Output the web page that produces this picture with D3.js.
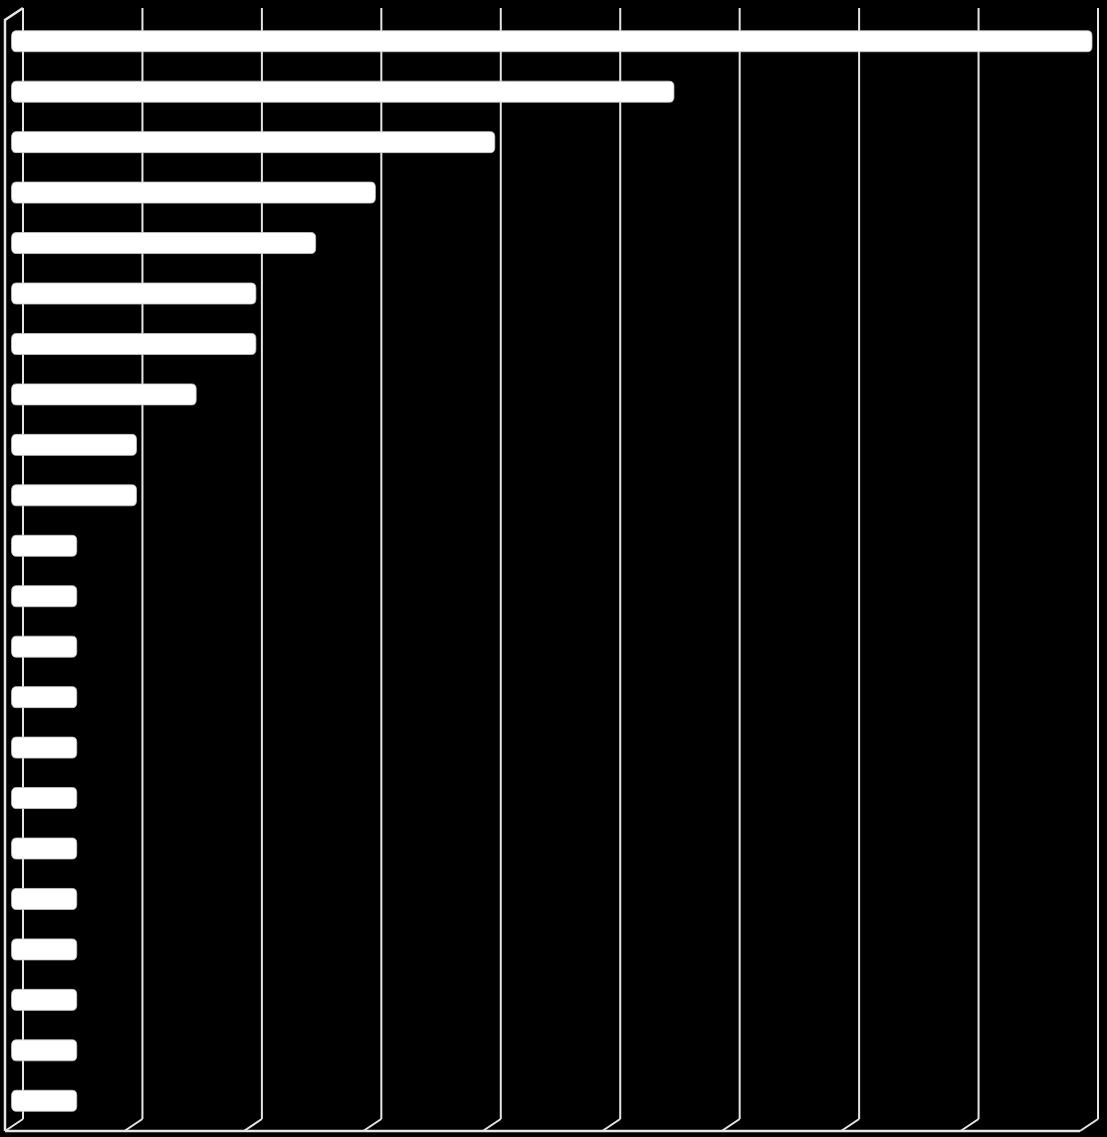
<!DOCTYPE html>
<html>
<head>
<meta charset="utf-8">
<script src="https://cdn.jsdelivr.net/npm/d3@7"></script>
<style>
  html, body { margin: 0; padding: 0; background: #000; }
  svg { display: block; }
</style>
</head>
<body>
<svg id="chart" width="1107" height="1137"></svg>
<script>
// Data
const categories = ["A1","A2","A3","A4","A5","A6","A7","A8","A9","A10","A11",
                    "A12","A13","A14","A15","A16","A17","A18","A19","A20","A21","A22"];
const values = [18, 11, 8, 6, 5, 4, 4, 3, 2, 2, 1, 1, 1, 1, 1, 1, 1, 1, 1, 1, 1, 1];
const tickValues = [0, 2, 4, 6, 8, 10, 12, 14, 16, 18];

const svg = d3.select("#chart");
svg.append("rect").attr("width", 1107).attr("height", 1137).attr("fill", "#000");

// back-wall scales
const x = d3.scaleLinear().domain([0, 18]).range([23, 1098]);
const yTop = 8, yBot = 1119;
const depthX = -18, depthY = 12;   // front offset from back wall
const y = d3.scaleBand().domain(categories).range([16, 1126]).paddingInner(0.58).paddingOuter(0.29);

const lineCol = "#e6e6e6";
const g = svg.append("g");

// back vertical gridlines
g.selectAll("line.grid").data(tickValues).enter().append("line")
  .attr("class", "grid")
  .attr("x1", d => x(d)).attr("x2", d => x(d))
  .attr("y1", yTop).attr("y2", yBot)
  .attr("stroke", lineCol).attr("stroke-width", 2);

// floor diagonals
g.selectAll("line.floor").data(tickValues).enter().append("line")
  .attr("class", "floor")
  .attr("x1", d => x(d)).attr("x2", d => x(d) + depthX)
  .attr("y1", yBot).attr("y2", yBot + depthY)
  .attr("stroke", lineCol).attr("stroke-width", 2);

// floor front edge
g.append("line")
  .attr("x1", x(0) + depthX).attr("x2", x(18) + depthX)
  .attr("y1", yBot + depthY).attr("y2", yBot + depthY)
  .attr("stroke", lineCol).attr("stroke-width", 2.5);

// left wall front edge + top diagonal
g.append("path")
  .attr("d", `M${x(0) + depthX},${yBot + depthY} L${x(0) + depthX},${yTop + depthY} L${x(0)},${yTop}`)
  .attr("fill", "none").attr("stroke", lineCol).attr("stroke-width", 2.5);

// bars (horizontal cylinders)
const h = 21;
const x0 = x(0) - 11.5;
g.selectAll("path.bar").data(values).enter().append("path")
  .attr("class", "bar")
  .attr("d", (d, i) => {
    const yc = y(categories[i]) + y.bandwidth() / 2;
    const top = yc - h / 2, bot = yc + h / 2;
    const x1 = x(d) - 6;
    const r = 4.5;
    return `M${x0 + r},${top} L${x1 - r},${top} Q${x1},${top} ${x1},${top + 5} L${x1},${bot - 5} Q${x1},${bot} ${x1 - r},${bot} L${x0 + r},${bot} Q${x0},${bot} ${x0},${bot - 6} L${x0},${top + 6} Q${x0},${top} ${x0 + r},${top} Z`;
  })
  .attr("fill", "#ffffff")
  .attr("stroke", "#c8c8c8").attr("stroke-width", 0.8);
</script>
</body>
</html>
